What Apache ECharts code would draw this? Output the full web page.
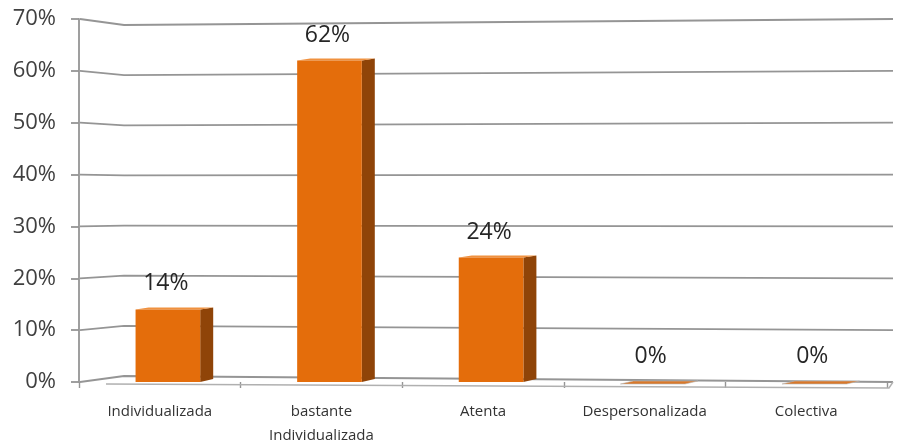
<!DOCTYPE html>
<html>
<head>
<meta charset="utf-8">
<script src="https://cdn.jsdelivr.net/npm/echarts@6/dist/echarts.min.js"></script>
<style>html,body{margin:0;padding:0;background:#fff}#c{width:897px;height:443px}</style>
</head>
<body>
<div id="c"></div>
<script>
const categories = ['Individualizada', 'bastante\nIndividualizada', 'Atenta', 'Despersonalizada', 'Colectiva'];
const values = [14, 62, 24, 0, 0];
const yTicks = [0, 10, 20, 30, 40, 50, 60, 70];

const FONT = 'Open Sans';
const chart = echarts.init(document.getElementById('c'), null, {renderer: 'canvas'});

function gridRender(params, api) {
  const cs = params.coordSys;
  const v = api.value(1);
  const yf = api.coord([0, v])[1];
  const c = api.coord([0, 35])[1];
  const yb = c + (yf - c) * 0.967;
  const x0 = cs.x + 1;
  const xr = cs.x + cs.width + 6;
  const children = [{
    type: 'polyline',
    shape: {points: [[x0, yf], [x0 + 44, yb], [xr, yf]]},
    style: {stroke: '#959595', lineWidth: 1.8, fill: null}
  }];
  if (v === 0) {
    children.push({
      type: 'polyline',
      shape: {points: [[x0 + 26, yf + 2], [xr - 4, yf + 6], [xr, yf]]},
      style: {stroke: '#b0b0b0', lineWidth: 1.4, fill: null}
    });
  }
  return {type: 'group', children: children};
}

function barRender(params, api) {
  const i = api.value(0);
  const v = api.value(1);
  const top = api.coord([i, v]);
  const base = api.coord([i, 0]);
  const band = api.size([1, 0])[0];
  const w = band * 0.4;
  const cx = top[0] + band * 0.05;
  const d = 13;
  const l = cx - w / 2, r = cx + w / 2;
  const t = top[1], b = base[1];
  const children = [];
  if (v > 0) {
    children.push({type: 'polygon', shape: {points: [[r, t], [r + d, t - 2], [r + d, b - 3], [r, b]]}, style: {fill: '#8f4408'}});
    children.push({type: 'polygon', shape: {points: [[l, t], [l + d, t - 2], [r + d, t - 2], [r, t]]}, style: {fill: '#f0913f'}});
    children.push({type: 'rect', shape: {x: l, y: t, width: w, height: b - t}, style: {fill: '#e46d0b'}});
  } else {
    children.push({type: 'polygon', shape: {points: [[l, b + 2], [l + d, b - 1], [r + d, b - 1], [r, b + 2]]}, style: {fill: '#d9782a', stroke: '#b8b8b8', lineWidth: 0.6}});
  }
  children.push({
    type: 'text',
    style: {text: v + '%', x: cx - 2, y: t - 14, align: 'center', verticalAlign: 'bottom', fontSize: 23, fontFamily: FONT, fill: '#262626'}
  });
  return {type: 'group', children: children};
}

chart.setOption({
  animation: false,
  backgroundColor: '#ffffff',
  grid: {left: 79, right: 10, top: 19, bottom: 61, containLabel: false, outerBoundsMode: 'none'},
  xAxis: {
    type: 'category',
    data: categories,
    axisLine: {show: false},
    axisTick: {show: true, interval: 0, alignWithLabel: false, length: 6, lineStyle: {color: '#959595', width: 1.4}},
    axisLabel: {interval: 0, fontSize: 15, fontFamily: FONT, color: '#333333', margin: 18, lineHeight: 24}
  },
  yAxis: {
    type: 'value',
    min: 0, max: 70, interval: 10,
    axisLine: {show: true, lineStyle: {color: '#959595', width: 1.8}},
    axisTick: {show: true, length: 8, lineStyle: {color: '#959595', width: 1.8}},
    splitLine: {show: false},
    axisLabel: {formatter: '{value}%', fontSize: 22, fontFamily: FONT, color: '#404040', margin: 23}
  },
  series: [
    {
      type: 'custom',
      renderItem: gridRender,
      data: yTicks.map(v => [0, v]),
      encode: {x: 0, y: 1},
      silent: true,
      z: 1
    },
    {
      type: 'custom',
      renderItem: barRender,
      data: values.map((v, i) => [i, v]),
      encode: {x: 0, y: 1},
      z: 3
    }
  ]
});
</script>
</body>
</html>
